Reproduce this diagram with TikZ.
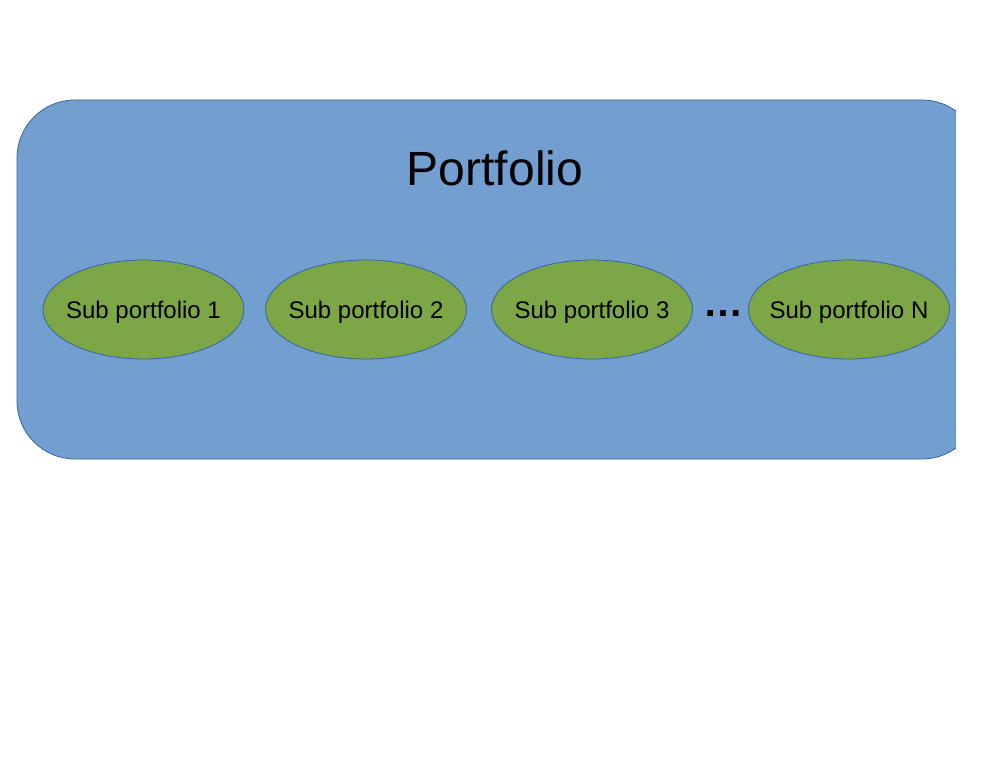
\documentclass[tikz,border=0pt]{standalone}
\usepackage{fontspec}
\setmainfont{Liberation Sans}
\usetikzlibrary{shapes.geometric}
\definecolor{boxblue}{RGB}{114,159,207}
\definecolor{boxedge}{RGB}{52,101,164}
\definecolor{subgreen}{RGB}{125,166,71}
\begin{document}
\begin{tikzpicture}[x=1pt,y=1pt,
  subbox/.style={ellipse,draw=boxedge,fill=subgreen,line width=0.8pt,
    minimum width=201pt,minimum height=99pt,inner xsep=-30pt,inner ysep=0pt,
    text depth=0pt,font=\fontsize{24}{28}\selectfont}]
\useasboundingbox (0,0) rectangle (994,-768);
\begin{scope}
\clip (0,0) rectangle (956,-768);
\draw[draw=boxedge,fill=boxblue,line width=0.8pt,rounded corners=58pt]
  (17,-100) rectangle (980,-459);
\end{scope}
\node[font=\fontsize{48}{56}\selectfont] (title) at (495,-168) {Portfolio};
\node[subbox] (s1) at (143.5,-309.5) {Sub portfolio 1};
\node[subbox] (s2) at (366,-309.5) {Sub portfolio 2};
\node[subbox] (s3) at (592,-309.5) {Sub portfolio 3};
\node[subbox] (sn) at (849,-309.5) {Sub portfolio N};
\node[font=\fontsize{40}{44}\selectfont\bfseries,inner sep=0pt] (dots) at (723.5,-314) {…};
\end{tikzpicture}
\end{document}
